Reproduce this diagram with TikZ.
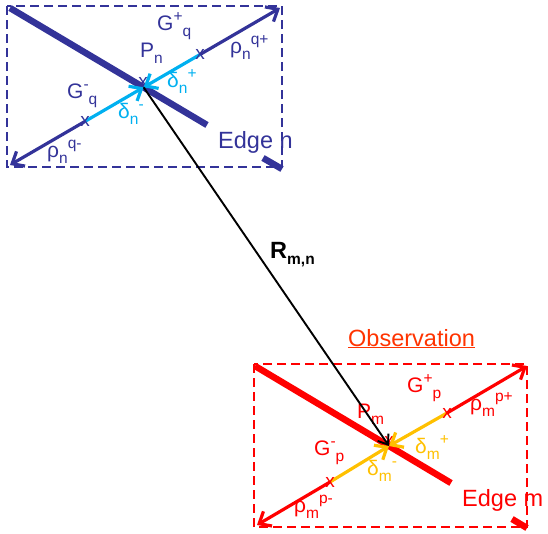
\documentclass[tikz,border=0pt]{standalone}
\usepackage{fontspec}
\setmainfont{Liberation Sans}
\usetikzlibrary{arrows.meta}
\definecolor{dblue}{RGB}{51,51,153}
\definecolor{lblue}{RGB}{0,176,240}
\definecolor{myred}{RGB}{255,0,0}
\definecolor{myyel}{RGB}{255,192,0}
\definecolor{obsred}{RGB}{255,51,0}
\newcommand\myup[1]{\raisebox{9pt}{\fontsize{15.5}{15.5}\selectfont #1}}
\newcommand\mydn[1]{\raisebox{-6pt}{\fontsize{15.5}{15.5}\selectfont #1}}
\tikzset{
  lbl/.style={inner sep=0pt, anchor=base west, font=\fontsize{21}{21}\selectfont},
  biglbl/.style={inner sep=0pt, anchor=base west, font=\fontsize{23.5}{23.5}\selectfont},
  dbox/.style={line width=2.6pt, dash pattern=on 9pt off 5pt},
  edgeline/.style={line width=6.5pt},
  dirline/.style={line width=3.2pt},
  tip/.style={-{Straight Barb[length=10pt,width=17pt]}},
  xmark/.style={inner sep=0pt, font=\fontsize{19}{19}\selectfont},
}
\begin{document}
\begin{tikzpicture}[x=1pt,y=-1pt]
\useasboundingbox (0,0) rectangle (548,533);
% ---------- Edge n (blue) ----------
\draw[dbox, dblue] (7,6) rectangle (282,167);
\coordinate (Pn) at (143.6,87.3);
\coordinate (An) at (10,165);
\coordinate (Bn) at (280,8);
\coordinate (Xnp) at (200,54.5);
\coordinate (Xnm) at (85,121.4);
\node[xmark, dblue] (xn0) at (143,82) {x};
\draw[edgeline, dblue] (10,8) -- (207,125);
\draw[edgeline, dblue] (263,158) -- (282,169);
\draw[dirline, dblue, tip] (Xnp) -- (Bn);
\draw[dirline, dblue, tip] (Xnm) -- (An);
\draw[dirline, lblue, tip] (Xnp) -- (Pn);
\draw[dirline, lblue, tip] (Xnm) -- (Pn);
\node[xmark, dblue] (xnp) at (Xnp) {x};
\node[xmark, dblue] (xnm) at (Xnm) {x};
\node[lbl, dblue] (Gqp) at (157,30) {G\myup{+}\mydn{q}};
\node[lbl, dblue] (rqp) at (230,53) {ρ\mydn{n}\myup{q+}};
\node[lbl, dblue] (Pnl) at (140,57) {P\mydn{n}};
\node[lbl, lblue] (dnp) at (167,87) {δ\mydn{n}\myup{+}};
\node[lbl, dblue] (Gqm) at (67,98) {G\myup{-}\mydn{q}};
\node[lbl, lblue] (dnm) at (118,118) {δ\mydn{n}\myup{-}};
\node[lbl, dblue] (rqm) at (47,157) {ρ\mydn{n}\myup{q-}};
\node[biglbl, dblue] (En) at (218,148) {Edge n};
% ---------- Edge m (red) ----------
\draw[dbox, myred] (254,364) rectangle (527,527);
\coordinate (Pm) at (389,446);
\coordinate (Am) at (257,525);
\coordinate (Bm) at (527,366);
\coordinate (Xmp) at (447,413);
\coordinate (Xmm) at (330,482);
\node[xmark, myred] (xm0) at (389,441) {x};
\draw[edgeline, myred] (255,366) -- (451,483);
\draw[edgeline, myred] (512,519) -- (527,528);
\draw[dirline, myred, tip] (Xmp) -- (Bm);
\draw[dirline, myred, tip] (Xmm) -- (Am);
\draw[dirline, myyel, tip] (Xmp) -- (Pm);
\draw[dirline, myyel, tip] (Xmm) -- (Pm);
\node[xmark, myred] (xmp) at (Xmp) {x};
\node[xmark, myred] (xmm) at (Xmm) {x};
\node[lbl, myred] (Gpp) at (407,392) {G\myup{+}\mydn{p}};
\node[lbl, myred] (rpp) at (470,410) {ρ\mydn{m}\myup{p+}};
\node[lbl, myred] (Pml) at (357,418) {P\mydn{m}};
\node[lbl, myyel] (dmp) at (415,453) {δ\mydn{m}\myup{+}};
\node[lbl, myred] (Gpm) at (314,455) {G\myup{-}\mydn{p}};
\node[lbl, myyel] (dmm) at (367,475) {δ\mydn{m}\myup{-}};
\node[lbl, myred] (rpm) at (294,512) {ρ\mydn{m}\myup{p-}};
\node[biglbl, myred] (Em) at (462,506) {Edge m};
\node[biglbl, obsred] (obs) at (348,346) {\underline{Observation}};
% ---------- R_{m,n} ----------
\draw[line width=1.9pt, black, -{Straight Barb[length=9pt,width=13pt]}] (Pn) -- (Pm);
\node[biglbl, black, font=\fontsize{23.5}{23.5}\selectfont\bfseries] (R) at (270,258) {R\mydn{\bfseries m,n}};
\end{tikzpicture}
\end{document}
